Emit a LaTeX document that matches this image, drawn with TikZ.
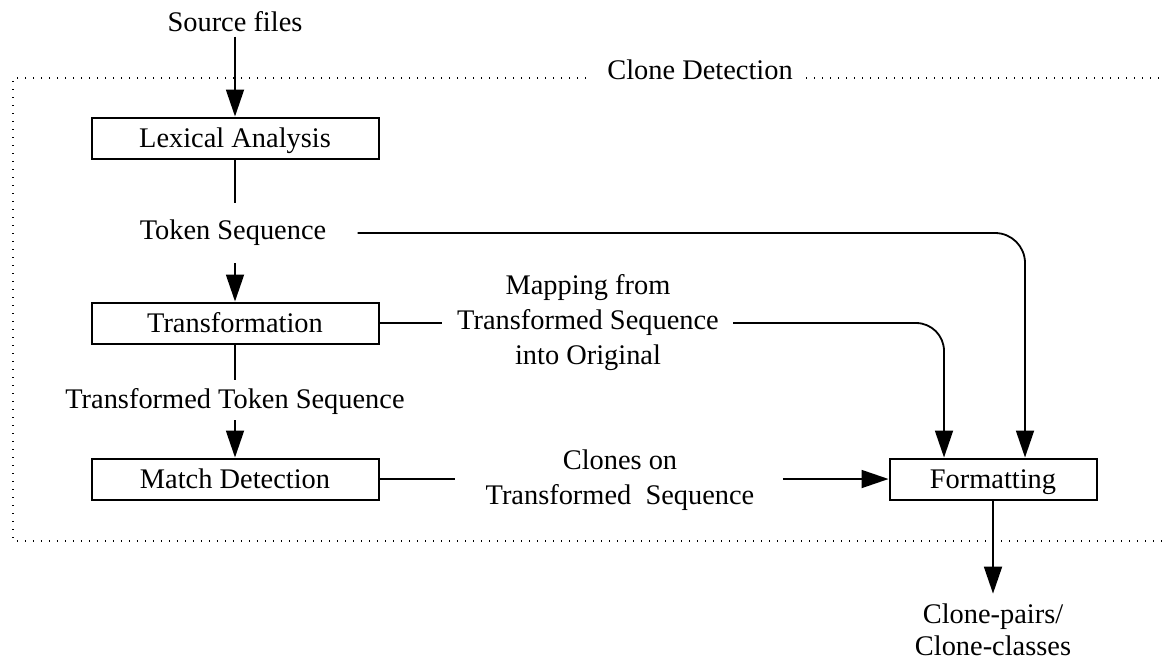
\documentclass[tikz,border=0pt]{standalone}
\usepackage{fontspec}
\setmainfont{Liberation Serif}
\usetikzlibrary{arrows.meta}
\begin{document}
\begin{tikzpicture}[x=0.5pt,y=-0.5pt,
  every node/.style={font=\fontsize{14.2}{17.5}\selectfont},
  box/.style={draw,line width=1pt,minimum width=143.5pt,minimum height=20.5pt,inner sep=0pt,text height=9.4pt,text depth=0pt},
  lbl/.style={inner sep=0pt,align=center},
  conn/.style={line width=0.9pt},
  arr/.style={conn,-{Triangle[length=13.5pt,width=9pt]}},
  framedots/.style={line width=1.2pt,dash pattern=on 0.7pt off 3.3pt}]
\useasboundingbox (0,0) rectangle (1165,660);
% frame
\draw[framedots] (586,78) -- (13,78) -- (13,541) -- (1165,541);
\draw[framedots] (806,78) -- (1165,78);
\node[lbl] (frame) at (700,70) {Clone Detection};
% nodes
\node[lbl] (src) at (235,22) {Source files};
\node[box] (lex) at (235,138) {Lexical Analysis};
\node[lbl] (tok) at (233,233) {Token Sequence};
\node[box] (tra) at (235,323) {Transformation};
\node[lbl] (ttok) at (235,402) {Transformed Token Sequence};
\node[box] (mat) at (235,479) {Match Detection};
\node[box,minimum width=103.5pt] (fmt) at (993,479) {Formatting};
\node[lbl] (map) at (588,323) {Mapping from\\Transformed Sequence\\into Original};
\node[lbl] (clo) at (620,480) {Clones on\\Transformed~~Sequence};
\node[lbl,font=\fontsize{14.2}{16}\selectfont] (out) at (993,630) {Clone-pairs/\\Clone-classes};
\coordinate (lexend) at (235,203);
\coordinate (tokstart) at (235,263);
\coordinate (traend) at (235,380);
\coordinate (ttokstart) at (235,420);
% connectors
\draw[arr,shorten <=2pt] (src) -- (lex);
\draw[conn] (lex.south) -- (lexend);
\draw[arr] (tokstart) -- (tra.north);
\draw[conn] (tra.south) -- (traend);
\draw[arr] (ttokstart) -- (mat.north);
\draw[arr,rounded corners=15pt,shorten <=15.5pt] (tok.east) -| ([xshift=16pt]fmt.north);
\draw[conn,shorten >=7.5pt] (tra.east) -- (map.west);
\draw[arr,rounded corners=14pt,shorten <=7pt] (map.east) -| ([xshift=-24.5pt]fmt.north);
\draw[conn,shorten >=15pt] (mat.east) -- (mat.east -| clo.west);
\draw[arr,shorten <=14pt] (clo.east |- fmt.west) -- (fmt.west);
\draw[arr,shorten >=5pt] (fmt.south) -- (out.north);
\end{tikzpicture}
\end{document}
